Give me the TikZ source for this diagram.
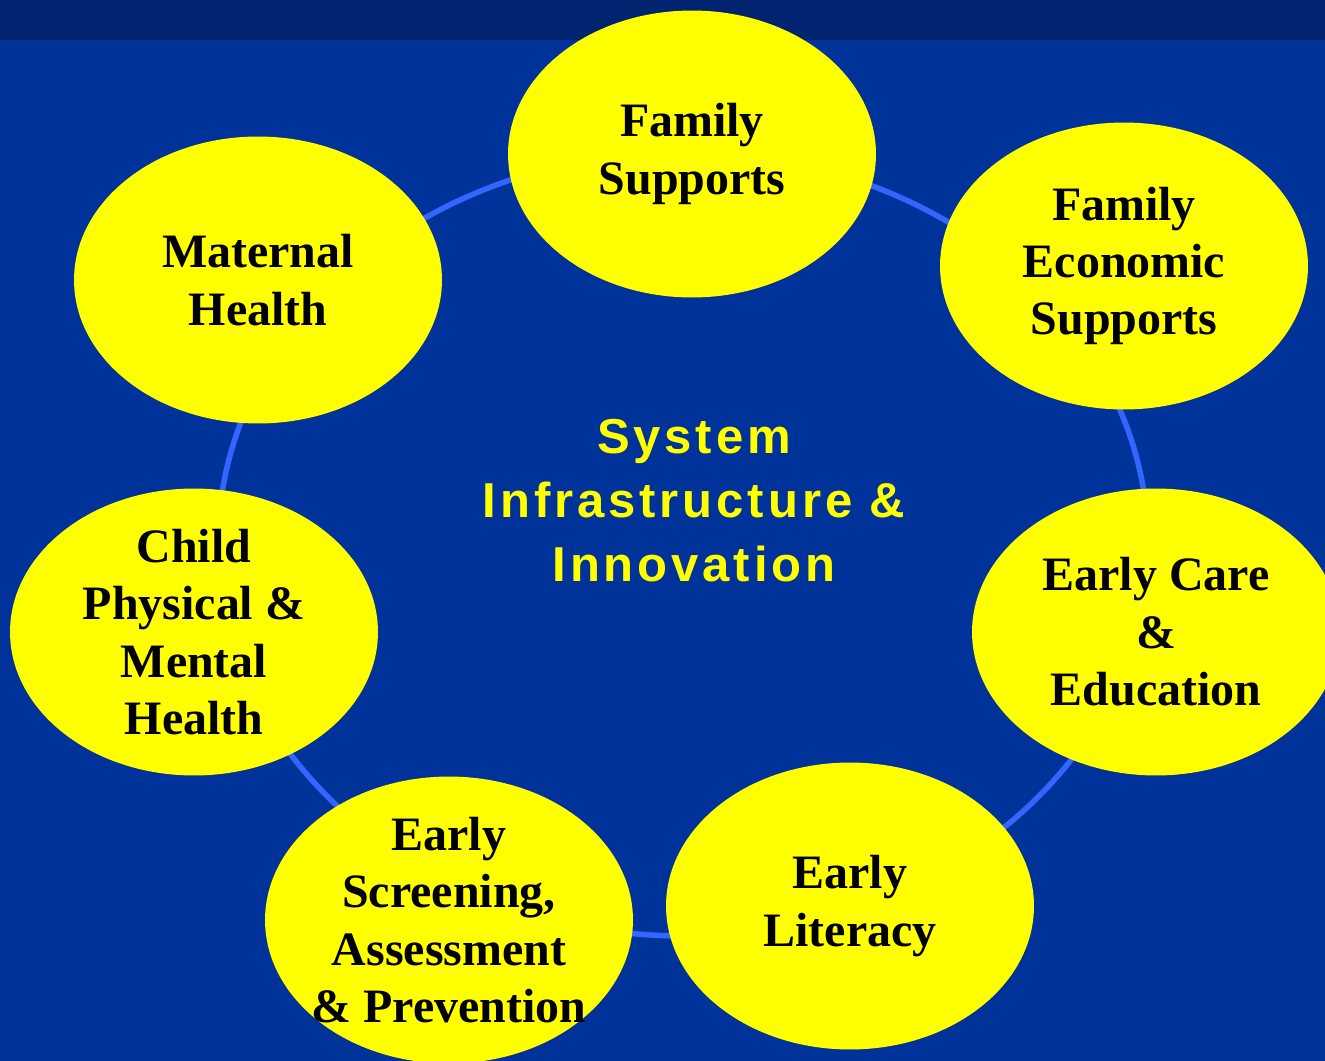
\documentclass[tikz,border=0pt]{standalone}
\usepackage{fontspec}
\setmainfont{Liberation Serif}
\newfontfamily\infrafont[LetterSpace=8]{Liberation Sans}
\usetikzlibrary{shapes.geometric}
\definecolor{slideblue}{HTML}{003399}
\definecolor{bandblue}{HTML}{00246F}
\definecolor{ringblue}{HTML}{3366FF}
\definecolor{bubble}{HTML}{FFFF00}

\begin{document}
\begin{tikzpicture}[x=0.02cm,y=-0.02cm,
  area/.style={ellipse,fill=bubble,inner sep=-0.8cm,minimum width=7.36cm,minimum height=5.74cm,
    align=center,font=\bfseries\fontsize{27.3}{32.7}\selectfont},
  ring/.style={ringblue,line width=0.11cm}]
\useasboundingbox (0,0) rectangle (1325,1061);
\fill[slideblue] (0,0) rectangle (1325,1061);
\fill[bandblue] (0,0) rectangle (1325,40);
% the ring behind the bubbles
\coordinate (hub) at (683,544);
\draw[ring] (hub) ellipse [x radius=9.3cm,y radius=7.84cm];
    \node[area] (famsup) at (692,154) {Family\\Supports};
    \node[area] (famecon) at (1124,266) {Family\\Economic\\Supports};
    \node[area] (earlycare) at (1156,632) {Early Care\\\&\\Education};
    \node[area] (literacy) at (850,906) {Early\\Literacy};
    \node[area] (screening) at (449,920) {Early\\Screening,\\Assessment\\\& Prevention};
    \node[area] (childhealth) at (194,632) {Child\\Physical \&\\Mental\\Health};
    \node[area] (maternal) at (258,280) {Maternal\\Health};
\node[text=bubble,align=center,font=\infrafont\bfseries\fontsize{27.9}{36.4}\selectfont]
  (infra) at (694,501) {System\\Infrastructure \&\\Innovation};
\end{tikzpicture}
\end{document}
